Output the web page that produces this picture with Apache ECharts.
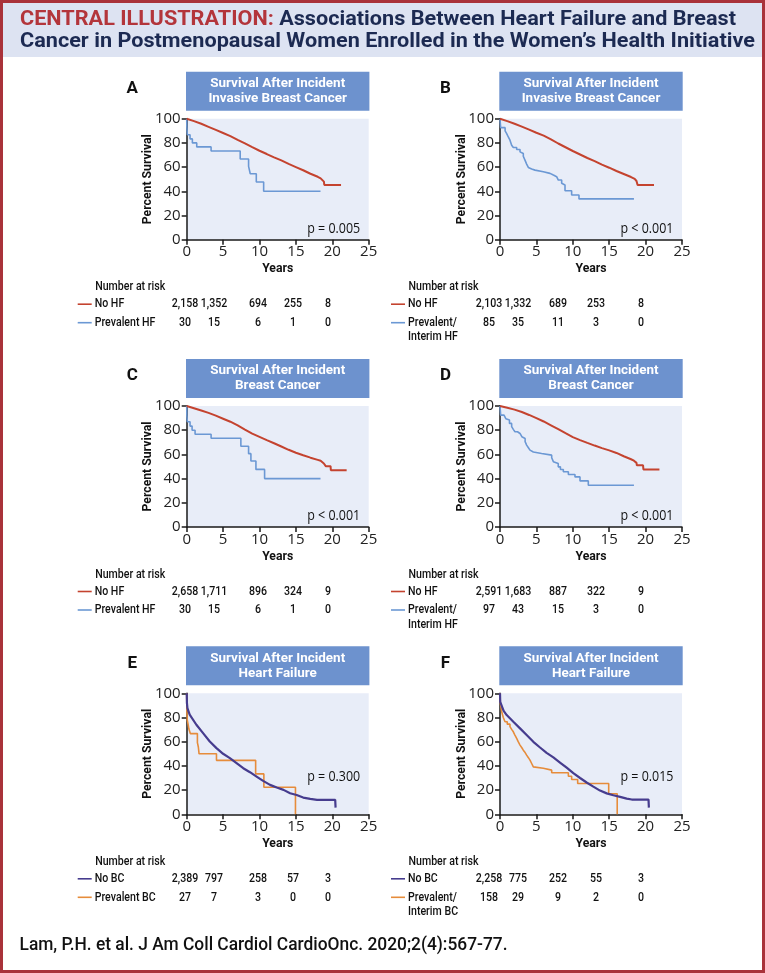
<!DOCTYPE html>
<html><head><meta charset="utf-8">
<script src="https://cdn.jsdelivr.net/npm/echarts@6/dist/echarts.min.js"></script>
<style>html,body{margin:0;padding:0;background:#fff}#c{width:765px;height:973px}</style>
</head><body><div id="c"></div>
<script>
// ---------------- DATA ----------------
const TITLE_RED = 'CENTRAL ILLUSTRATION:';
const TITLE_1 = ' Associations Between Heart Failure and Breast';
const TITLE_2 = 'Cancer in Postmenopausal Women Enrolled in the Women\u2019s Health Initiative';
const FOOTER = 'Lam, P.H. et al. J Am Coll Cardiol CardioOnc. 2020;2(4):567-77.';
const xTicks = [0, 5, 10, 15, 20, 25];
const yTicks = [0, 20, 40, 60, 80, 100];

// Panel A: Invasive breast cancer, No HF vs Prevalent HF  [years, % survival]
const A_noHF = [[0,100],[1,98],[2,95.8],[3,93.3],[4,90.8],[5,88.2],[6,85.6],[7,82.5],[8,79.6],[9,76.5],[10,73.5],[11,70.8],[12,68],[13,65.5],[14,62.6],[15,60],[16,57.4],[17,54.5],[18,52],[18.4,50.7],[18.6,49.5],[18.85,48],[18.9,45.2],[21.2,45.2]];
const A_prevHF = [[0,100],[0.02,93.3],[0.09,86.7],[0.46,83.3],[0.78,80],[1.38,76.7],[3.35,73.3],[7.35,66.7],[8.5,60.6],[8.73,54.5],[9.56,47.7],[10.57,40],[18.38,40]];
const A_risk_noHF = [2158, 1352, 694, 255, 8];
const A_risk_prevHF = [30, 15, 6, 1, 0];

// Panel B: Invasive breast cancer, No HF vs Prevalent/Interim HF
const B_noHF = [[0,100],[1,98],[2,95.8],[3,93.5],[4,91],[5,88.4],[6,86],[7,83],[8,79.5],[9,76.4],[10,73.3],[11,70.4],[12,67.5],[13,65],[14,62],[15,59.5],[16,56.8],[17,54.3],[18,51.8],[18.5,50.3],[18.75,48.5],[18.9,45.2],[21.15,45.2]];
const B_intHF = [[0,100],[0.09,92.6],[0.7,90],[0.92,87.7],[1.14,84.9],[1.37,82.2],[1.6,78.1],[1.83,76.2],[2.29,74.5],[2.75,72.6],[2.98,71.2],[3.2,69],[3.43,65.8],[3.66,62.5],[3.89,59.7],[4.12,58.4],[4.35,57.5],[4.81,56.2],[5.95,54.8],[6.87,53.4],[7.33,52.1],[7.78,51.5],[8.01,49.3],[8.47,46.6],[8.7,45.2],[8.93,40.5],[9.84,37],[10.85,33.7],[18.4,33.7]];
const B_risk_noHF = [2103, 1332, 689, 253, 8];
const B_risk_intHF = [85, 35, 11, 3, 0];

// Panel C: Breast cancer, No HF vs Prevalent HF
const C_noHF = [[0,100],[1,98.2],[2,96.3],[3,94.3],[4,92],[5,89.5],[6,87],[7,84],[8,80.5],[9,77.2],[10,74.5],[11,71.8],[12,69.2],[13,66.5],[14,63.8],[15,61.4],[16,59.3],[17,57.3],[18,55.5],[18.4,54.7],[18.84,52.5],[19.1,50.3],[19.76,50.3],[19.8,47],[21.97,47]];
const C_prevHF = [[0,100],[0.02,92.5],[0.09,87],[0.46,83.4],[0.74,80],[1.15,76.6],[3.35,73.3],[7.44,66.7],[8.5,60.6],[8.82,54.5],[9.51,47.6],[10.7,40],[18.38,40]];
const C_risk_noHF = [2658, 1711, 896, 324, 9];
const C_risk_prevHF = [30, 15, 6, 1, 0];

// Panel D: Breast cancer, No HF vs Prevalent/Interim HF
const D_noHF = [[0,100],[1,98.6],[2,97],[3,95],[4,92.6],[5,90],[6,87.2],[7,84],[8,80.8],[9,77.5],[10,74.3],[11,71.8],[12,69.5],[13,67.3],[14,65.2],[15,63.3],[16,61.2],[17,58.5],[18,56],[18.4,54.8],[18.75,53],[18.8,51],[19.65,51],[19.7,47.5],[21.9,47.5]];
const D_intHF = [[0,100],[0.09,92.5],[0.55,91],[0.8,89.5],[1.0,88.4],[1.3,85.6],[1.6,82.9],[1.85,80.5],[2.06,78.7],[2.4,77.3],[2.75,76],[3.0,74.6],[3.2,73.2],[3.45,70.5],[3.66,67.7],[3.9,65.5],[4.12,63.5],[4.35,62],[4.58,60.8],[5.72,59.4],[7.1,57.2],[7.33,54],[7.5,52.5],[8.0,49.7],[8.3,47.5],[8.7,45.6],[9.39,43.4],[10.3,41.4],[10.99,38.1],[12.13,34.5],[18.4,34.5]];
const D_risk_noHF = [2591, 1683, 887, 322, 9];
const D_risk_intHF = [97, 43, 15, 3, 0];

// Panel E: Heart failure, No BC vs Prevalent BC
const E_noBC = [[0,100],[0.03,92],[0.1,87.8],[0.41,82.3],[1.33,74],[2.25,67.1],[3.17,60.2],[4.09,54.7],[5.0,50],[5.93,46.4],[6.85,42.3],[7.77,38.1],[8.69,34.8],[9.6,31.2],[10.5,27.6],[11.45,24.3],[12.37,22.1],[13.3,20.2],[14.2,17.4],[15.1,16],[16.0,13.8],[16.97,12.7],[17.9,11.9],[20.4,11.9],[20.45,5.5]];
const E_prevBC = [[0,100],[0.03,85.2],[0.08,77.8],[0.2,74.1],[0.3,70.4],[0.5,66.7],[1.47,59.3],[1.6,55.6],[1.7,50],[4.09,44.6],[9.47,33.4],[10.6,22.3],[14.94,0]];
const E_risk_noBC = [2389, 797, 258, 57, 3];
const E_risk_prevBC = [27, 7, 3, 0, 0];

// Panel F: Heart failure, No BC vs Prevalent/Interim BC
const F_noBC = [[0,100],[0.03,93],[0.09,91.7],[0.5,85.5],[0.92,82],[1.83,76.5],[2.75,71],[3.66,65.5],[4.58,59.9],[5.5,55.2],[6.4,50.8],[7.33,47],[8.24,42.8],[9.16,38.5],[10.07,34],[11.0,30],[11.9,26.3],[12.82,22.9],[13.74,19.6],[14.65,17.3],[15.57,15.7],[16.5,14.4],[17.4,13],[18.1,12.2],[20.4,12.2],[20.45,5.5]];
const F_intBC = [[0,100],[0.05,91.7],[0.23,85],[0.45,80],[0.69,76.5],[1.0,74.5],[1.37,72.4],[1.6,70.2],[1.83,68.2],[2.05,65.5],[2.29,62.7],[2.5,60],[2.75,57.2],[3.0,55],[3.2,53],[3.45,51],[3.66,48.9],[3.9,46.8],[4.12,44.8],[4.35,42],[4.58,39.2],[4.75,38],[5.95,36.5],[7.1,34.3],[9.39,31.5],[9.84,28.7],[10.67,25.5],[14.93,17],[16.1,0]];
const F_risk_noBC = [2258, 775, 252, 55, 3];
const F_risk_intBC = [158, 29, 9, 2, 0];

// ---------------- STYLE / LAYOUT ----------------
const RED = '#c4432f', BLUE = '#6b98d4', PURPLE = '#463c8e', ORANGE = '#e68c3b';
const FRAME = '#a9323a', BAND = '#dde3f2', TRED = '#b3353b', NAVY = '#1c2a52';
const HDR = '#6d92ce', PLOTBG = '#e8edf8', INK = '#1a1a1a';
const SANS = 'Roboto, "DejaVu Sans", sans-serif';
const OPEN = '"Open Sans", Roboto, sans-serif';
const W = 182, H = 121;
const LEFTS = [186.7, 500], TOPS = [118.7, 406, 693.3];
const COLS = [[185, 214, 258, 293, 328], [489, 518, 558, 596, 641]];

const panels = [
  {id:'A', c:0, r:0, hdr:['Survival After Incident','Invasive Breast Cancer'], p:'p = 0.005', pdy:11,
   series:[{d:A_prevHF,col:BLUE,step:true,w:1.6},{d:A_noHF,col:RED,step:false,w:2}],
   rows:[{lab:['No HF'],col:RED,risk:A_risk_noHF},{lab:['Prevalent HF'],col:BLUE,risk:A_risk_prevHF}]},
  {id:'B', c:1, r:0, hdr:['Survival After Incident','Invasive Breast Cancer'], p:'p < 0.001', pdy:11,
   series:[{d:B_intHF,col:BLUE,step:true,w:1.6},{d:B_noHF,col:RED,step:false,w:2}],
   rows:[{lab:['No HF'],col:RED,risk:B_risk_noHF},{lab:['Prevalent/','Interim HF'],col:BLUE,risk:B_risk_intHF}]},
  {id:'C', c:0, r:1, hdr:['Survival After Incident','Breast Cancer'], p:'p < 0.001', pdy:11,
   series:[{d:C_prevHF,col:BLUE,step:true,w:1.6},{d:C_noHF,col:RED,step:false,w:2}],
   rows:[{lab:['No HF'],col:RED,risk:C_risk_noHF},{lab:['Prevalent HF'],col:BLUE,risk:C_risk_prevHF}]},
  {id:'D', c:1, r:1, hdr:['Survival After Incident','Breast Cancer'], p:'p < 0.001', pdy:11,
   series:[{d:D_intHF,col:BLUE,step:true,w:1.6},{d:D_noHF,col:RED,step:false,w:2}],
   rows:[{lab:['No HF'],col:RED,risk:D_risk_noHF},{lab:['Prevalent/','Interim HF'],col:BLUE,risk:D_risk_intHF}]},
  {id:'E', c:0, r:2, hdr:['Survival After Incident','Heart Failure'], p:'p = 0.300', pdy:37,
   series:[{d:E_prevBC,col:ORANGE,step:true,w:1.6},{d:E_noBC,col:PURPLE,step:false,w:2.2}],
   rows:[{lab:['No BC'],col:PURPLE,risk:E_risk_noBC},{lab:['Prevalent BC'],col:ORANGE,risk:E_risk_prevBC}]},
  {id:'F', c:1, r:2, hdr:['Survival After Incident','Heart Failure'], p:'p = 0.015', pdy:37,
   series:[{d:F_intBC,col:ORANGE,step:true,w:1.6},{d:F_noBC,col:PURPLE,step:false,w:2.2}],
   rows:[{lab:['No BC'],col:PURPLE,risk:F_risk_noBC},{lab:['Prevalent/','Interim BC'],col:ORANGE,risk:F_risk_intBC}]}
];

// text width fitting
const mctx = document.createElement('canvas').getContext('2d');
function tw(font, s) { mctx.font = font; return mctx.measureText(s).width; }
const fTitle = 'bold 19.5px ' + SANS;
const sTitle = 716 / tw(fTitle, TITLE_RED + TITLE_1);
const fHdr = 'bold 13.5px ' + SANS;
const sHdr = 135 / tw(fHdr, 'Survival After Incident');
const fAx = 'bold 13px ' + SANS;
const sAx = 90 / tw(fAx, 'Percent Survival');
const fTab = '500 13px ' + SANS;
const sTab = 70 / tw(fTab, 'Number at risk');
const fFoot = '500 18px ' + SANS;
const sFoot = 488 / tw(fFoot, FOOTER);
const fLet = 'bold 17px ' + SANS;
const fP = '14px ' + OPEN;
const sP = 53 / tw(fP, 'p = 0.005');

function T(x, y, text, font, fill, align, scale, rot) {
  return {type:'text', x:x, y:y, scaleX:scale||1, rotation:rot||0, silent:true, z:20,
    style:{text:text, font:font, fill:fill, textAlign:align||'left', align:align||'left',
           textVerticalAlign:'middle', verticalAlign:'middle'}};
}

const graphic = [];
graphic.push({type:'rect', shape:{x:3, y:3, width:759, height:54}, style:{fill:BAND}, z:1, silent:true});
graphic.push({type:'rect', shape:{x:1.5, y:1.5, width:762, height:970}, style:{fill:null, stroke:FRAME, lineWidth:3}, z:30, silent:true});
graphic.push(T(20, 20, TITLE_RED, fTitle, TRED, 'left', sTitle));
graphic.push(T(20 + tw(fTitle, TITLE_RED) * sTitle, 20, TITLE_1, fTitle, NAVY, 'left', sTitle));
graphic.push(T(20, 42, TITLE_2, fTitle, NAVY, 'left', sTitle));
graphic.push(T(19.5, 945, FOOTER, fFoot, '#111', 'left', sFoot));

const grids = [], xAxes = [], yAxes = [], series = [];
panels.forEach((p, i) => {
  const L = LEFTS[p.c], Tp = TOPS[p.r], B0 = Tp + H;
  grids.push({left:L, top:Tp, width:W, height:H, show:true, backgroundColor:PLOTBG, borderWidth:0, containLabel:false, outerBoundsMode:'none'});
  xAxes.push({gridIndex:i, type:'value', min:xTicks[0], max:xTicks[xTicks.length-1], interval:5,
    axisLine:{show:true, onZero:false, lineStyle:{color:INK, width:1.5}},
    axisTick:{show:true, length:5, lineStyle:{color:INK, width:1.5}},
    axisLabel:{color:'#222', fontSize:15, fontFamily:OPEN, margin:5},
    splitLine:{show:false}});
  yAxes.push({gridIndex:i, type:'value', min:yTicks[0], max:yTicks[yTicks.length-1], interval:20,
    axisLine:{show:true, onZero:false, lineStyle:{color:INK, width:1.5}},
    axisTick:{show:true, length:5, lineStyle:{color:INK, width:1.5}},
    axisLabel:{color:'#222', fontSize:15, fontFamily:OPEN, margin:6},
    splitLine:{show:false}});
  p.series.forEach(s => {
    series.push({type:'line', xAxisIndex:i, yAxisIndex:i, data:s.d, step:s.step ? 'end' : false,
      showSymbol:false, symbol:'none', clip:false, animation:false, silent:true,
      lineStyle:{color:s.col, width:s.w}, z:5});
  });
  graphic.push({type:'rect', shape:{x:L-0.7, y:Tp-47, width:W+1.4, height:39}, style:{fill:HDR}, z:2, silent:true});
  graphic.push(T(L+W/2, Tp-35, p.hdr[0], fHdr, '#fff', 'center', sHdr));
  graphic.push(T(L+W/2, Tp-20, p.hdr[1], fHdr, '#fff', 'center', sHdr));
  graphic.push(T(L-54.5, Tp-30, p.id, fLet, '#111', 'center', 1));
  graphic.push(T(L-38.7, Tp+H/2, 'Percent Survival', fAx, '#111', 'center', sAx, Math.PI/2));
  graphic.push(T(L+W/2, B0+29.5, 'Years', fAx, '#111', 'center', sAx));
  graphic.push(T(L+173.5, B0-p.pdy, p.p, fP, '#111', 'right', sP));
  graphic.push(T(L-91.5, B0+47.5, 'Number at risk', fTab, '#111', 'left', sTab));
  const rowY = [B0+64.5, B0+83];
  p.rows.forEach((row, k) => {
    const y = rowY[k];
    graphic.push({type:'line', shape:{x1:L-109, y1:y, x2:L-95, y2:y}, style:{stroke:row.col, lineWidth:1.6}, z:20, silent:true});
    row.lab.forEach((t, j) => graphic.push(T(L-92, y + j*14.5, t, fTab, '#111', 'left', sTab)));
    row.risk.forEach((n, j) => graphic.push(T(COLS[p.c][j], y, n.toLocaleString('en-US'), fTab, '#111', 'center', sTab)));
  });
});

const chart = echarts.init(document.getElementById('c'), null, {renderer:'canvas', width:765, height:973});
chart.setOption({
  backgroundColor:'#fff',
  animation:false,
  grid:grids, xAxis:xAxes, yAxis:yAxes, series:series,
  graphic:{elements:graphic}
});
</script></body></html>
